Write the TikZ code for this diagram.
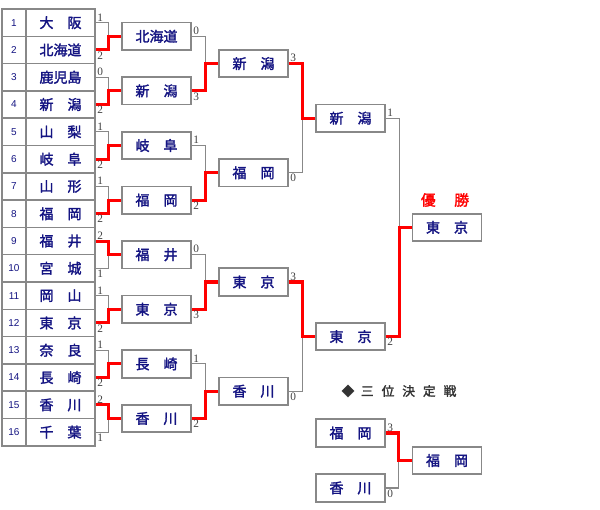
\documentclass[tikz,border=0pt]{standalone}
\usepackage{fontspec}
\setmainfont{Liberation Serif}
\newfontfamily\jpfont{Noto Sans CJK JP}[AutoFakeBold=2]
\newfontfamily\numfont{Liberation Sans}
\usepackage{xcolor}
\definecolor{teamblue}{RGB}{20,20,130}
\definecolor{linegray}{RGB}{136,136,136}
\definecolor{wingred}{RGB}{255,0,0}

\begin{document}
\begin{tikzpicture}[x=0.75pt, y=-0.75pt,
    numcell/.style={draw=linegray, line width=1.1pt, minimum width=18pt, minimum height=20.5pt,
      inner sep=0pt, text=teamblue, font=\numfont\fontsize{7.5}{9}\selectfont},
    namecell/.style={draw=linegray, line width=1.1pt, minimum width=51.75pt, minimum height=20.5pt,
      inner sep=0pt, text=teamblue, font=\jpfont\bfseries\fontsize{10.5}{12}\selectfont},
    team/.style={namecell, fill=white, line width=1.3pt, minimum height=20.6pt},
    score/.style={inner sep=1pt, text=black!75, font=\fontsize{8.5}{10}\selectfont},
    lose/.style={draw=linegray, line width=0.8pt},
    win/.style={draw=wingred, line width=2.3pt, line join=miter}]
    \useasboundingbox (0,0) rectangle (600,510);

    % Table of entries
    \node[numcell] (n1) at (14,22.65) {1};    \node[namecell] (t1) at (60.5,22.65) {大　阪};
    \node[numcell] (n2) at (14,49.95) {2};    \node[namecell] (t2) at (60.5,49.95) {北海道};
    \node[numcell] (n3) at (14,77.25) {3};    \node[namecell] (t3) at (60.5,77.25) {鹿児島};
    \node[numcell] (n4) at (14,104.55) {4};   \node[namecell] (t4) at (60.5,104.55) {新　潟};
    \node[numcell] (n5) at (14,131.85) {5};   \node[namecell] (t5) at (60.5,131.85) {山　梨};
    \node[numcell] (n6) at (14,159.15) {6};   \node[namecell] (t6) at (60.5,159.15) {岐　阜};
    \node[numcell] (n7) at (14,186.45) {7};   \node[namecell] (t7) at (60.5,186.45) {山　形};
    \node[numcell] (n8) at (14,213.75) {8};   \node[namecell] (t8) at (60.5,213.75) {福　岡};
    \node[numcell] (n9) at (14,241.05) {9};   \node[namecell] (t9) at (60.5,241.05) {福　井};
    \node[numcell] (n10) at (14,268.35) {10}; \node[namecell] (t10) at (60.5,268.35) {宮　城};
    \node[numcell] (n11) at (14,295.65) {11}; \node[namecell] (t11) at (60.5,295.65) {岡　山};
    \node[numcell] (n12) at (14,322.95) {12}; \node[namecell] (t12) at (60.5,322.95) {東　京};
    \node[numcell] (n13) at (14,350.25) {13}; \node[namecell] (t13) at (60.5,350.25) {奈　良};
    \node[numcell] (n14) at (14,377.55) {14}; \node[namecell] (t14) at (60.5,377.55) {長　崎};
    \node[numcell] (n15) at (14,404.85) {15}; \node[namecell] (t15) at (60.5,404.85) {香　川};
    \node[numcell] (n16) at (14,432.15) {16}; \node[namecell] (t16) at (60.5,432.15) {千　葉};

    % Second round
    \node[team] (a1) at (156.5,36.3) {北海道};
    \node[team] (a2) at (156.5,90.9) {新　潟};
    \node[team] (a3) at (156.5,145.5) {岐　阜};
    \node[team] (a4) at (156.5,200.1) {福　岡};
    \node[team] (a5) at (156.5,254.7) {福　井};
    \node[team] (a6) at (156.5,309.3) {東　京};
    \node[team] (a7) at (156.5,363.9) {長　崎};
    \node[team] (a8) at (156.5,418.5) {香　川};

    % Quarter finals, semi finals, final
    \node[team] (b1) at (253.5,63.6) {新　潟};
    \node[team] (b2) at (253.5,172.8) {福　岡};
    \node[team] (b3) at (253.5,282) {東　京};
    \node[team] (b4) at (253.5,391.2) {香　川};
    \node[team] (c1) at (350.5,118.2) {新　潟};
    \node[team] (c2) at (350.5,336.6) {東　京};
    \node[team] (f) at (447,227.4) {東　京};
    \node[text=wingred, font=\jpfont\bfseries\fontsize{11}{12}\selectfont] (champ) at (445,200) {優\hspace{14pt}勝};

    % Third place match
    \node[text=black!80, font=\jpfont\bfseries\fontsize{9.5}{11}\selectfont] (third) at (399,391)
      {◆\hspace{5pt}三\hspace{6pt}位\hspace{6pt}決\hspace{6pt}定\hspace{6pt}戦};
    \node[team] (d1) at (350.5,433) {福　岡};
    \node[team] (d2) at (350.5,488) {香　川};
    \node[team] (e) at (447,460.5) {福　岡};

    % Brackets, first round
    \draw[lose] (t1.east) -- ++(13,0) |- (t2.east);
    \draw[lose] (t3.east) -- ++(13,0) |- (t4.east);
    \draw[lose] (t5.east) -- ++(13,0) |- (t6.east);
    \draw[lose] (t7.east) -- ++(13,0) |- (t8.east);
    \draw[lose] (t9.east) -- ++(13,0) |- (t10.east);
    \draw[lose] (t11.east) -- ++(13,0) |- (t12.east);
    \draw[lose] (t13.east) -- ++(13,0) |- (t14.east);
    \draw[lose] (t15.east) -- ++(13,0) |- (t16.east);
    \draw[win] (t2.east) -- ++(13,0) |- (a1.west);
    \draw[win] (t4.east) -- ++(13,0) |- (a2.west);
    \draw[win] (t6.east) -- ++(13,0) |- (a3.west);
    \draw[win] (t8.east) -- ++(13,0) |- (a4.west);
    \draw[win] (t9.east) -- ++(13,0) |- (a5.west);
    \draw[win] (t12.east) -- ++(13,0) |- (a6.west);
    \draw[win] (t14.east) -- ++(13,0) |- (a7.west);
    \draw[win] (t15.east) -- ++(13,0) |- (a8.west);

    % Brackets, later rounds
    \draw[lose] (a1.east) -- ++(14,0) |- (a2.east);
    \draw[lose] (a3.east) -- ++(14,0) |- (a4.east);
    \draw[lose] (a5.east) -- ++(14,0) |- (a6.east);
    \draw[lose] (a7.east) -- ++(14,0) |- (a8.east);
    \draw[lose] (b1.east) -- ++(14,0) |- (b2.east);
    \draw[lose] (b3.east) -- ++(14,0) |- (b4.east);
    \draw[lose] (c1.east) -- ++(14,0) |- (c2.east);
    \draw[lose] (d1.east) -- ++(13,0) |- (d2.east);
    \draw[win] (a2.east) -- ++(14,0) |- (b1.west);
    \draw[win] (a4.east) -- ++(14,0) |- (b2.west);
    \draw[win] (a6.east) -- ++(14,0) |- (b3.west);
    \draw[win] (a8.east) -- ++(14,0) |- (b4.west);
    \draw[win] (b1.east) -- ++(14,0) |- (c1.west);
    \draw[win] (b3.east) -- ++(14,0) |- (c2.west);
    \draw[win] (c2.east) -- ++(14,0) |- (f.west);
    \draw[win] (d1.east) -- ++(13,0) |- (e.west);

    % Scores
    \node[score, anchor=south west] at (t1.east) {1};
    \node[score, anchor=north west] at (t2.east) {2};
    \node[score, anchor=south west] at (t3.east) {0};
    \node[score, anchor=north west] at (t4.east) {2};
    \node[score, anchor=south west] at (t5.east) {1};
    \node[score, anchor=north west] at (t6.east) {2};
    \node[score, anchor=south west] at (t7.east) {1};
    \node[score, anchor=north west] at (t8.east) {2};
    \node[score, anchor=south west] at (t9.east) {2};
    \node[score, anchor=north west] at (t10.east) {1};
    \node[score, anchor=south west] at (t11.east) {1};
    \node[score, anchor=north west] at (t12.east) {2};
    \node[score, anchor=south west] at (t13.east) {1};
    \node[score, anchor=north west] at (t14.east) {2};
    \node[score, anchor=south west] at (t15.east) {2};
    \node[score, anchor=north west] at (t16.east) {1};
    \node[score, anchor=south west] at (a1.east) {0};
    \node[score, anchor=north west] at (a2.east) {3};
    \node[score, anchor=south west] at (a3.east) {1};
    \node[score, anchor=north west] at (a4.east) {2};
    \node[score, anchor=south west] at (a5.east) {0};
    \node[score, anchor=north west] at (a6.east) {3};
    \node[score, anchor=south west] at (a7.east) {1};
    \node[score, anchor=north west] at (a8.east) {2};
    \node[score, anchor=south west] at (b1.east) {3};
    \node[score, anchor=north west] at (b2.east) {0};
    \node[score, anchor=south west] at (b3.east) {3};
    \node[score, anchor=north west] at (b4.east) {0};
    \node[score, anchor=south west] at (c1.east) {1};
    \node[score, anchor=north west] at (c2.east) {2};
    \node[score, anchor=south west] at (d1.east) {3};
    \node[score, anchor=north west] at (d2.east) {0};
\end{tikzpicture}
\end{document}
